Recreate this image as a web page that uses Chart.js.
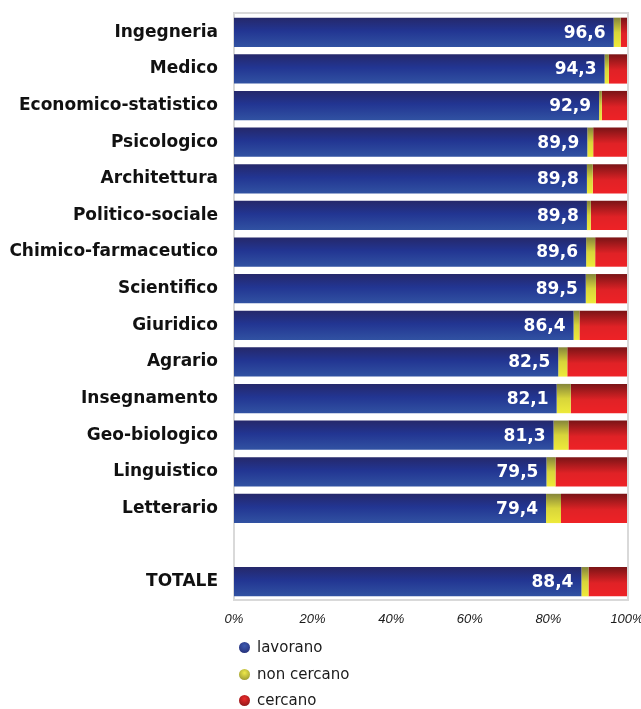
<!DOCTYPE html>
<html>
<head>
<meta charset="utf-8">
<script src="https://cdn.jsdelivr.net/npm/chart.js@4.4.1/dist/chart.umd.min.js"></script>
<style>
  html, body { margin: 0; padding: 0; background: #fff; }
  #wrap { position: relative; width: 641px; height: 709px; }
  #legend { position: absolute; left: 238px; top: 636px; font-family: "DejaVu Sans", sans-serif; font-size: 15px; color: #1a1a1a; }
  #legend div { height: 26.5px; line-height: 22px; position: relative; padding-left: 19px; }
  #legend span.dot { position: absolute; left: 1px; top: 6px; width: 11px; height: 11px; border-radius: 50%; }
</style>
</head>
<body>
<div id="wrap">
  <canvas id="c" width="641" height="709"></canvas>
  <div id="legend"></div>
</div>
<script>
const categories = ['Ingegneria','Medico','Economico-statistico','Psicologico','Architettura','Politico-sociale','Chimico-farmaceutico','Scientifico','Giuridico','Agrario','Insegnamento','Geo-biologico','Linguistico','Letterario','','TOTALE'];
const lavorano   = [96.6, 94.3, 92.9, 89.9, 89.8, 89.8, 89.6, 89.5, 86.4, 82.5, 82.1, 81.3, 79.5, 79.4, null, 88.4];
const nonCercano = [1.8, 1.1, 0.7, 1.5, 1.5, 1.0, 2.3, 2.6, 1.5, 2.3, 3.6, 3.8, 2.3, 3.8, null, 1.8];
const cercano    = [1.6, 4.6, 6.4, 8.6, 8.7, 9.2, 8.1, 7.9, 12.1, 15.2, 14.3, 14.9, 18.2, 16.8, null, 9.8];
const seriesNames = ['lavorano', 'non cercano', 'cercano'];
const xTicks = [0, 20, 40, 60, 80, 100];

const BAR_FRAC = 0.8;
const stopsBlue   = [[0, '#25286a'], [0.45, '#223592'], [1, '#3152a2']];
const stopsYellow = [[0, '#85853a'], [0.5, '#d8d53a'], [1, '#eeea3a']];
const stopsRed    = [[0, '#7a1416'], [0.55, '#e02226'], [1, '#ee2226']];

function grad(ctx, stops) {
  const chart = ctx.chart;
  const y = chart.scales && chart.scales.y;
  if (!y || ctx.type !== 'data' || !y.height) return stops[stops.length - 1][1];
  const c = y.getPixelForValue(ctx.dataIndex);
  const h = (y.height / categories.length) * BAR_FRAC / 2;
  const g = chart.ctx.createLinearGradient(0, c - h, 0, c + h);
  stops.forEach(s => g.addColorStop(s[0], s[1]));
  return g;
}

Chart.defaults.font.family = '"DejaVu Sans", sans-serif';
Chart.defaults.color = '#111';

const frame = {
  id: 'frame',
  beforeDatasetsDraw(chart) {
    const a = chart.chartArea, c = chart.ctx;
    c.save();
    c.strokeStyle = '#d9d9d9';
    c.lineWidth = 2;
    c.strokeRect(a.left, a.top - 1, a.right - a.left + 1, a.bottom - a.top + 1);
    c.restore();
  }
};

const valueLabels = {
  id: 'valueLabels',
  afterDatasetsDraw(chart) {
    const meta = chart.getDatasetMeta(0);
    const c = chart.ctx;
    c.save();
    c.fillStyle = '#ffffff';
    c.font = 'bold 17px "DejaVu Sans", sans-serif';
    c.textAlign = 'right';
    c.textBaseline = 'middle';
    meta.data.forEach((el, i) => {
      const v = lavorano[i];
      if (v == null) return;
      c.fillText(v.toFixed(1).replace('.', ','), el.x - 8, el.y + 1);
    });
    c.restore();
  }
};

const makeDs = (label, data, stops) => ({
  label, data,
  backgroundColor: ctx => grad(ctx, stops),
  borderWidth: 0,
  barPercentage: BAR_FRAC,
  categoryPercentage: 1
});

new Chart(document.getElementById('c'), {
  type: 'bar',
  data: {
    labels: categories,
    datasets: [
      makeDs(seriesNames[0], lavorano, stopsBlue),
      makeDs(seriesNames[1], nonCercano, stopsYellow),
      makeDs(seriesNames[2], cercano, stopsRed)
    ]
  },
  options: {
    indexAxis: 'y',
    responsive: false,
    animation: false,
    layout: { padding: { top: 14, right: 14, left: 0, bottom: 79 } },
    plugins: { legend: { display: false }, tooltip: { enabled: false } },
    scales: {
      x: {
        stacked: true,
        min: 0, max: 100,
        afterBuildTicks: s => { s.ticks = xTicks.map(v => ({ value: v })); },
        afterFit: s => { s.height = 30; s.paddingLeft = 0; s.paddingRight = 0; },
        grid: { display: false, drawTicks: false },
        border: { display: false },
        ticks: {
          padding: 12,
          labelOffset: 0,
          color: '#1a1a1a',
          font: { family: '"Liberation Sans", Arial, sans-serif', size: 13, style: 'italic' },
          callback: v => v + '%'
        }
      },
      y: {
        stacked: true,
        afterFit: s => { s.width = 234; s.paddingTop = 0; s.paddingBottom = 0; },
        grid: { display: false, drawTicks: false },
        border: { display: false },
        ticks: {
          padding: 16,
          color: '#111',
          font: { size: 17, weight: 'bold' }
        }
      }
    }
  },
  plugins: [frame, valueLabels]
});

const legendColors = [
  'radial-gradient(circle at 50% 35%, #3d5ab0, #22286e)',
  'radial-gradient(circle at 50% 35%, #efe94a, #8a8a30)',
  'radial-gradient(circle at 50% 35%, #ee2a2a, #7a1416)'
];
const lg = document.getElementById('legend');
seriesNames.forEach((n, i) => {
  const d = document.createElement('div');
  const s = document.createElement('span');
  s.className = 'dot';
  s.style.background = legendColors[i];
  d.appendChild(s);
  d.appendChild(document.createTextNode(n));
  lg.appendChild(d);
});
</script>
</body>
</html>
